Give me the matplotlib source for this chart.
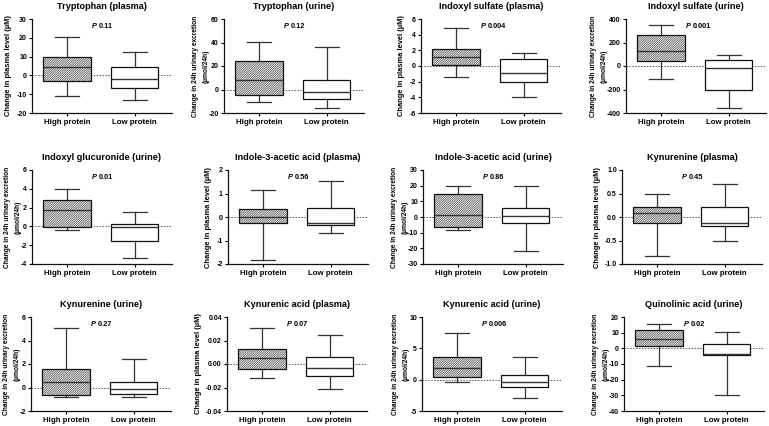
import numpy as np
import matplotlib
matplotlib.use("Agg")
import matplotlib.pyplot as plt
from matplotlib.patches import PathPatch
from matplotlib.ticker import FormatStrFormatter

plt.rcParams['font.family'] = ['Liberation Sans', 'DejaVu Sans']
plt.rcParams['font.weight'] = 'bold'
plt.rcParams['hatch.linewidth'] = 0.55

titles = ["Tryptophan (plasma)", "Tryptophan (urine)", "Indoxyl sulfate (plasma)", "Indoxyl sulfate (urine)",
          "Indoxyl glucuronide (urine)", "Indole-3-acetic acid (plasma)", "Indole-3-acetic acid (urine)", "Kynurenine (plasma)",
          "Kynurenine (urine)", "Kynurenic acid (plasma)", "Kynurenic acid (urine)", "Quinolinic acid (urine)"]
p_values = ["0.11", "0.12", "0.004", "0.001", "0.01", "0.56", "0.86", "0.45", "0.27", "0.07", "0.006", "0.02"]
groups = ["High protein", "Low protein"]

# whisker low, q1, median, q3, whisker high
high_stats = [(-11, -3, 4.7, 10, 20.3), (-11, -5, 8, 24, 40.5), (-1.45, 0.15, 1.1, 2.2, 4.85), (-110, 45, 130, 265, 350),
              (-0.4, -0.1, 1.7, 2.85, 4.0), (-1.85, -0.25, 0.0, 0.35, 1.15), (-8, -6.5, 1.5, 14.5, 19.5), (-0.82, -0.13, 0.09, 0.22, 0.49),
              (-0.85, -0.6, 0.5, 1.6, 5.05), (-0.012, -0.004, 0.005, 0.013, 0.031), (-0.4, 0.5, 1.9, 3.6, 7.5), (-11, 1.5, 6, 11.8, 15.8)]
low_stats = [(-13, -6.5, -1.8, 4.7, 12.5), (-16, -8, -2.5, 8.5, 36.5), (-3.9, -2.1, -0.95, 0.85, 1.6), (-355, -205, -15, 50, 95),
             (-3.4, -1.6, -0.05, 0.25, 1.5), (-0.7, -0.35, -0.25, 0.4, 1.55), (-21.5, -4, 0.5, 6, 20), (-0.5, -0.2, -0.12, 0.22, 0.71),
             (-0.8, -0.55, -0.1, 0.45, 2.4), (-0.021, -0.010, -0.003, 0.006, 0.025), (-3.0, -1.1, -0.35, 0.75, 3.6), (-30, -4.5, -3.5, 2.5, 10.3)]

y_min = [-20, -20, -6, -400, -4, -2, -30, -1.0, -2, -0.04, -5, -40]
y_max = [30, 60, 6, 400, 6, 2, 30, 1.0, 6, 0.04, 10, 20]
y_step = [10, 20, 2, 200, 2, 1, 10, 0.5, 2, 0.02, 5, 10]
y_fmt = ['%d', '%d', '%d', '%d', '%d', '%d', '%d', '%.1f', '%d', '%.2f', '%d', '%d']

plasma_label = "Change in plasma level (µM)"
urine_label = "Change in 24h urinary excretion\n(µmol/24h)"

W, H = 769, 426
fig = plt.figure(figsize=(W / 100, H / 100), dpi=100)

# axes layout in pixels
lefts = [[32, 224, 421, 626], [32, 228, 423, 622], [31, 227, 422, 624]]
tops = [19, 170, 317]
ax_w, ax_h = 140, 94

for i in range(12):
    r, c = divmod(i, 4)
    l = lefts[r][c]
    t = tops[r]
    ax = fig.add_axes([l / W, 1 - (t + ax_h) / H, ax_w / W, ax_h / H])

    stats = []
    for s in (high_stats[i], low_stats[i]):
        stats.append(dict(whislo=s[0], q1=s[1], med=s[2], q3=s[3], whishi=s[4], fliers=[]))
    art = ax.bxp(stats, positions=[1, 2], widths=0.7, patch_artist=True, showfliers=False,
                 capwidths=0.35,
                 boxprops=dict(facecolor='white', edgecolor='#111111', linewidth=0.9),
                 whiskerprops=dict(color='#333333', linewidth=0.9),
                 capprops=dict(color='#333333', linewidth=0.9),
                 medianprops=dict(color='#333333', linewidth=1.0))
    hb = art['boxes'][0]
    hb.set_hatch('/' * 15)
    hb.set_edgecolor('#555555')
    hb.set_linewidth(0)
    ax.add_patch(PathPatch(hb.get_path(), transform=hb.get_transform(), fill=False,
                           edgecolor='#111111', linewidth=0.9, zorder=hb.get_zorder() + 0.05))

    ax.axhline(0, color='#555555', ls=(0, (1.5, 1.5)), lw=0.7, zorder=1)

    ax.set_xlim(0.48, 2.55)
    ax.set_ylim(y_min[i], y_max[i])
    ax.set_yticks(np.linspace(y_min[i], y_max[i], int(round((y_max[i] - y_min[i]) / y_step[i])) + 1))
    ax.yaxis.set_major_formatter(FormatStrFormatter(y_fmt[i]))
    ax.set_xticks([1, 2])
    ax.set_xticklabels(groups, fontsize=5.7, fontweight='bold')
    ax.tick_params(axis='y', labelsize=5.0, length=2.5, width=0.8, pad=1.2)
    ax.tick_params(axis='x', length=2.5, width=0.8, pad=2)
    for side in ('top', 'right'):
        ax.spines[side].set_visible(False)
    for side in ('left', 'bottom'):
        ax.spines[side].set_linewidth(0.9)
        ax.spines[side].set_color('#111111')

    if 'urine' in titles[i]:
        ax.set_ylabel(urine_label, fontsize=4.8, fontweight='bold', labelpad=-0.5, linespacing=1.7)
    else:
        ax.set_ylabel(plasma_label, fontsize=5.4, fontweight='bold', labelpad=3)
    ax.set_title(titles[i], fontsize=6.6, fontweight='bold', pad=7)

    pt = ax.text(0.43, 0.925, "P", transform=ax.transAxes, fontsize=5.3, fontweight='bold',
                 fontstyle='italic', ha='left', va='center')
    ax.annotate(p_values[i], xy=(1, 0.5), xycoords=pt, xytext=(1.5, 0), textcoords='offset points',
                fontsize=5.3, fontweight='bold', ha='left', va='center')

fig.savefig("out.png", dpi=100)
